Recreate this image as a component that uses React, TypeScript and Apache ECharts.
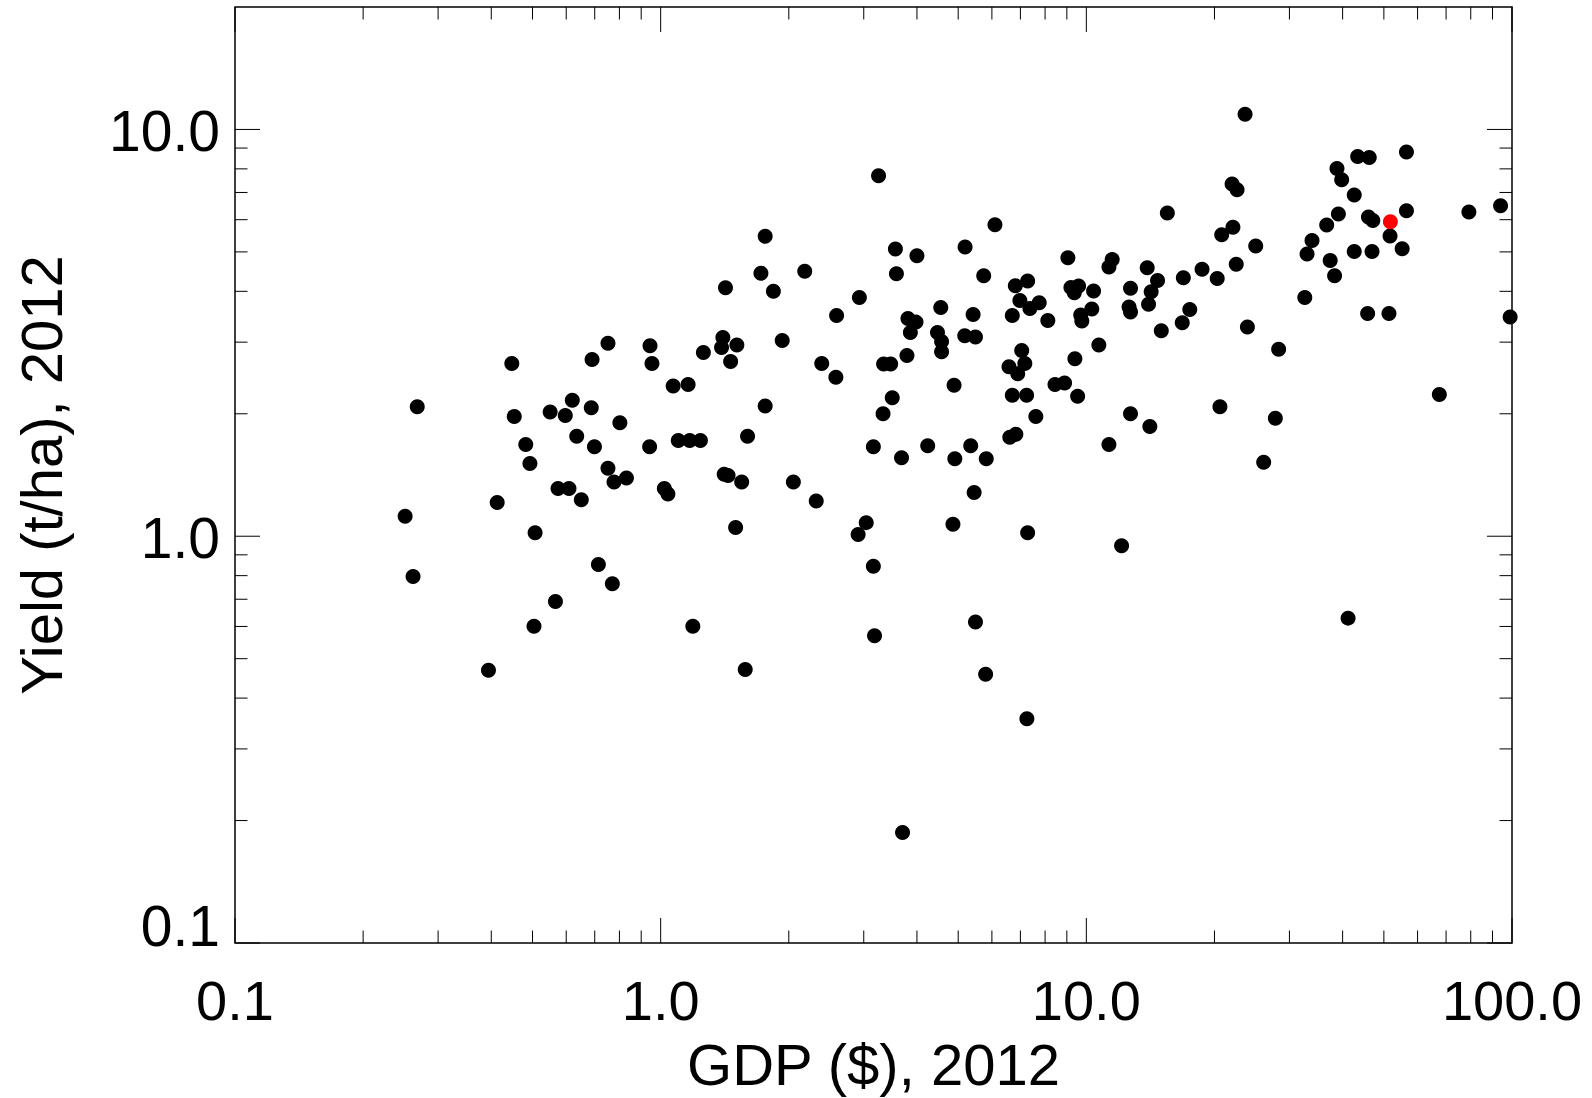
import React, { useEffect, useRef } from "react";
import * as echarts from "echarts";

// [GDP ($, 2012), Yield (t/ha, 2012)]
const COUNTRIES: [number, number][] = [
  [1.76, 5.46], [1.72, 4.43], [1.42, 4.08], [1.84, 4.0],
  [0.752, 2.98], [0.944, 2.94], [1.4, 3.08], [1.39, 2.91], [1.51, 2.95], [1.93, 3.03],
  [0.447, 2.66], [0.69, 2.72], [0.954, 2.66], [1.26, 2.83], [1.46, 2.69], [1.07, 2.34],
  [1.16, 2.36], [0.268, 2.08], [0.453, 1.97], [0.55, 2.02], [0.62, 2.16], [0.597, 1.98],
  [0.687, 2.07], [0.802, 1.9], [1.76, 2.09], [0.482, 1.68], [0.493, 1.51], [0.635, 1.76],
  [0.699, 1.66], [0.942, 1.66], [1.1, 1.72], [1.17, 1.72], [1.24, 1.72], [1.6, 1.76],
  [0.752, 1.47], [0.777, 1.36], [0.831, 1.39], [0.574, 1.31], [0.609, 1.31], [0.651, 1.23],
  [1.02, 1.31], [1.04, 1.27], [1.41, 1.42], [1.44, 1.41], [1.55, 1.36], [2.05, 1.36],
  [0.413, 1.21], [0.251, 1.12], [0.507, 1.02], [1.5, 1.05], [0.714, 0.852], [0.262, 0.796],
  [0.77, 0.764], [0.566, 0.691], [0.504, 0.601], [1.19, 0.601], [0.394, 0.468], [1.58, 0.47],
  [3.25, 7.69], [15.5, 6.23], [6.1, 5.83], [3.56, 5.08], [4.0, 4.89], [5.19, 5.14],
  [2.18, 4.48], [3.58, 4.42], [5.74, 4.37], [9.05, 4.84], [11.5, 4.79], [11.3, 4.59],
  [13.9, 4.57], [14.7, 4.25], [14.2, 3.99], [14.0, 3.72], [16.9, 4.32], [18.7, 4.53],
  [20.3, 4.3], [2.93, 3.86], [2.59, 3.49], [3.81, 3.43], [3.98, 3.36], [3.86, 3.17],
  [4.55, 3.65], [4.47, 3.17], [4.57, 3.01], [4.57, 2.84], [5.42, 3.51], [5.18, 3.11],
  [5.49, 3.09], [6.81, 4.13], [7.28, 4.24], [6.98, 3.8], [7.37, 3.63], [7.75, 3.75],
  [6.7, 3.49], [8.12, 3.39], [9.2, 4.09], [9.59, 4.12], [9.37, 3.97], [10.4, 4.01],
  [9.7, 3.5], [9.76, 3.38], [10.3, 3.62], [12.7, 4.07], [12.6, 3.66], [12.7, 3.56],
  [2.39, 2.66], [2.58, 2.46], [3.34, 2.65], [3.47, 2.65], [3.79, 2.78], [3.5, 2.19],
  [3.33, 2.0], [4.89, 2.35], [7.05, 2.86], [7.17, 2.66], [6.58, 2.61], [6.9, 2.51],
  [6.7, 2.22], [7.24, 2.22], [7.61, 1.97], [8.44, 2.36], [8.89, 2.38], [9.4, 2.73],
  [10.7, 2.95], [9.54, 2.21], [12.7, 2.0], [14.1, 1.86], [6.61, 1.75], [6.83, 1.78],
  [3.16, 1.66], [4.24, 1.67], [5.35, 1.67], [11.3, 1.68], [3.68, 1.56], [4.91, 1.55],
  [5.82, 1.55], [2.32, 1.22], [5.45, 1.28], [3.04, 1.08], [2.91, 1.01], [4.86, 1.07],
  [7.28, 1.02], [12.1, 0.948], [3.16, 0.844], [5.49, 0.615], [3.18, 0.569], [5.8, 0.458],
  [7.25, 0.356], [3.7, 0.187],
  [22.0, 7.34], [22.6, 7.11], [22.1, 5.75], [20.8, 5.51], [25.0, 5.17], [22.5, 4.66],
  [17.5, 3.61], [16.8, 3.35], [15.0, 3.2], [23.9, 3.27], [20.6, 2.08], [26.1, 1.52],
  [23.6, 10.9], [43.4, 8.58], [46.2, 8.53], [56.5, 8.8], [38.8, 8.02], [39.8, 7.52],
  [42.6, 6.9], [39.1, 6.2], [36.7, 5.82], [46.0, 6.09], [47.1, 5.97], [56.5, 6.31],
  [79.2, 6.27], [94.0, 6.49], [51.7, 5.47], [55.2, 5.09], [42.6, 5.01], [46.9, 5.01],
  [33.9, 5.33], [33.0, 4.94], [37.4, 4.76], [38.3, 4.37], [32.6, 3.86], [45.8, 3.53],
  [51.4, 3.53], [99.0, 3.46], [28.3, 2.88], [27.8, 1.95], [67.5, 2.23], [41.2, 0.629],
];

const HIGHLIGHT: [number, number][] = [[51.8, 5.93]];

const X_MIN = 0.1;
const X_MAX = 100;
const Y_MIN = 0.1;
const Y_MAX = 20;
const X_MAJOR_TICKS = [0.1, 1, 10, 100];
const Y_MAJOR_TICKS = [0.1, 1, 10];
const X_DECADES = [0.1, 1, 10];
const Y_DECADES = [0.1, 1, 10];
const MINOR_MANTISSAS = [2, 3, 4, 5, 6, 7, 8, 9];

const X_TITLE = "GDP ($), 2012";
const Y_TITLE = "Yield (t/ha), 2012";

const FONT = "'Liberation Sans', Arial, Helvetica, sans-serif";

function buildTicks(): number[][] {
  const t: number[][] = [];
  X_MAJOR_TICKS.forEach((v) => t.push([v, Y_MIN, 0, 1]));
  X_DECADES.forEach((d) => MINOR_MANTISSAS.forEach((m) => t.push([d * m, Y_MIN, 0, 0])));
  Y_MAJOR_TICKS.forEach((v) => t.push([X_MIN, v, 1, 1]));
  Y_DECADES.forEach((d) =>
    MINOR_MANTISSAS.forEach((m) => {
      const v = d * m;
      if (v < Y_MAX) t.push([X_MIN, v, 1, 0]);
    })
  );
  return t;
}

const isDecade = (v: number) => Math.abs(Math.log10(v) - Math.round(Math.log10(v))) < 1e-6;
const fmtX = (v: number) => (isDecade(v) ? Number(v).toFixed(1) : "");
const fmtY = (v: number) => {
  if (!isDecade(v)) return "";
  const s = Number(v).toFixed(1);
  return Math.abs(v - Y_MIN) < 1e-9 ? `{low|${s}}` : `{std|${s}}`;
};

export default function App() {
  const ref = useRef<HTMLDivElement>(null);

  useEffect(() => {
    if (!ref.current) return;
    const chart = echarts.init(ref.current, null, { renderer: "svg" });
    const tickStyle = { stroke: "#000", lineWidth: 1 };
    chart.setOption({
      animation: false,
      backgroundColor: "#fff",
      grid: {
        left: 235,
        right: 80,
        top: 7,
        bottom: 149,
        show: true,
        borderColor: "#000",
        borderWidth: 1.5,
        backgroundColor: "transparent",
      },
      xAxis: {
        type: "log",
        logBase: 10,
        min: X_MIN,
        max: X_MAX,
        axisLine: { show: false },
        axisTick: { show: false },
        splitLine: { show: false },
        minorTick: { show: false },
        axisLabel: {
          formatter: fmtX,
          fontSize: 56,
          color: "#000",
          fontFamily: FONT,
          margin: 29,
          showMinLabel: true,
          showMaxLabel: true,
          hideOverlap: false,
        },
        name: X_TITLE,
        nameLocation: "middle",
        nameGap: 92,
        nameTextStyle: { fontSize: 58, color: "#000", fontFamily: FONT },
      },
      yAxis: {
        type: "log",
        logBase: 10,
        min: Y_MIN,
        max: Y_MAX,
        axisLine: { show: false },
        axisTick: { show: false },
        splitLine: { show: false },
        minorTick: { show: false },
        axisLabel: {
          formatter: fmtY,
          fontSize: 56,
          color: "#000",
          fontFamily: FONT,
          margin: 15,
          hideOverlap: false,
          rich: {
            std: { fontSize: 57, color: "#000", fontFamily: FONT, padding: [4, 0, 0, 0] },
            low: { fontSize: 57, color: "#000", fontFamily: FONT, padding: [0, 0, 34, 0] },
          },
        },
        name: Y_TITLE,
        nameLocation: "middle",
        nameGap: 165,
        nameRotate: 90,
        nameTextStyle: { fontSize: 58, color: "#000", fontFamily: FONT },
      },
      series: [
        {
          type: "custom",
          silent: true,
          data: buildTicks(),
          encode: { x: 0, y: 1 },
          renderItem: (_params: any, api: any) => {
            const isY = api.value(2) === 1;
            const len = api.value(3) === 1 ? 25 : 12.5;
            if (isY) {
              const v = api.value(1);
              const a = api.coord([X_MIN, v]);
              const b = api.coord([X_MAX, v]);
              return {
                type: "group",
                children: [
                  { type: "line", shape: { x1: a[0], y1: a[1], x2: a[0] + len, y2: a[1] }, style: tickStyle },
                  { type: "line", shape: { x1: b[0], y1: b[1], x2: b[0] - len, y2: b[1] }, style: tickStyle },
                ],
              };
            }
            const v = api.value(0);
            const a = api.coord([v, Y_MIN]);
            const b = api.coord([v, Y_MAX]);
            return {
              type: "group",
              children: [
                { type: "line", shape: { x1: a[0], y1: a[1], x2: a[0], y2: a[1] - len }, style: tickStyle },
                { type: "line", shape: { x1: b[0], y1: b[1], x2: b[0], y2: b[1] + len }, style: tickStyle },
              ],
            };
          },
          z: 1,
        },
        {
          type: "scatter",
          data: COUNTRIES,
          symbol: "circle",
          symbolSize: 15,
          itemStyle: { color: "#000", opacity: 1 },
          silent: true,
          z: 2,
        },
        {
          type: "scatter",
          data: HIGHLIGHT,
          symbol: "circle",
          symbolSize: 15,
          itemStyle: { color: "#ff0000", opacity: 1 },
          silent: true,
          z: 3,
        },
      ],
    });
    return () => chart.dispose();
  }, []);

  return (
    <div
      ref={ref}
      style={{ position: "fixed", left: 0, top: 0, width: 1592, height: 1098, background: "#fff" }}
    />
  );
}
